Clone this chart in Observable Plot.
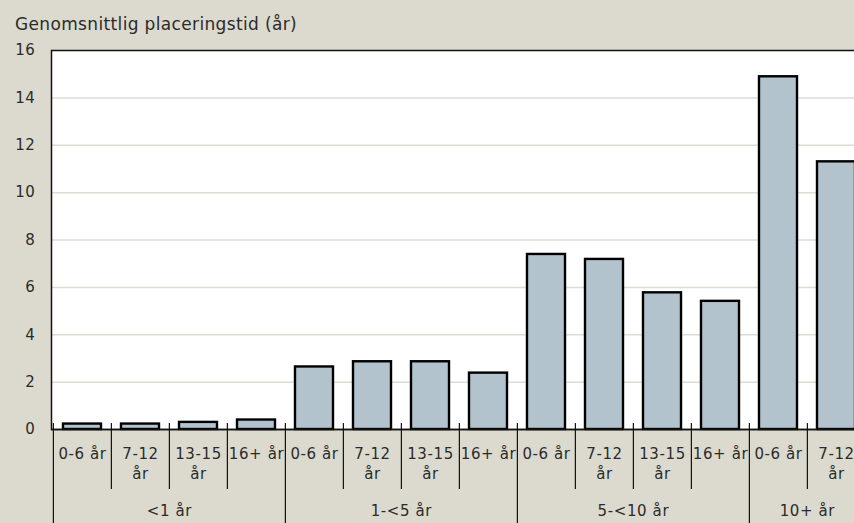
<!DOCTYPE html>
<html><head><meta charset="utf-8">
<script src="https://cdn.jsdelivr.net/npm/d3@7"></script>
<script src="https://cdn.jsdelivr.net/npm/@observablehq/plot@0.6"></script>
<style>
html,body{margin:0;padding:0;background:#dcdacf;overflow:hidden;width:854px;height:523px}
#wrap{position:relative;width:854px;height:523px;overflow:hidden}
#title{position:absolute;left:15px;top:14px;font-family:"DejaVu Sans";font-size:17px;letter-spacing:0.35px;color:#2b2b2b;white-space:nowrap}
#wrap svg{max-width:none !important}
#wrap svg text{letter-spacing:0.6px}
</style></head><body>
<div id="wrap"><div id="title">Genomsnittlig placeringstid (år)</div></div>
<script>
// Data
const groups = ["<1 år", "1-<5 år", "5-<10 år", "10+ år"];
const groupOf = ["<1 år","<1 år","<1 år","<1 år","1-<5 år","1-<5 år","1-<5 år","1-<5 år","5-<10 år","5-<10 år","5-<10 år","5-<10 år","10+ år","10+ år"];
const ageOf = ["0-6 år","7-12 år","13-15 år","16+ år","0-6 år","7-12 år","13-15 år","16+ år","0-6 år","7-12 år","13-15 år","16+ år","0-6 år","7-12 år"];
const values = [0.23, 0.23, 0.30, 0.40, 2.64, 2.86, 2.86, 2.38, 7.39, 7.18, 5.77, 5.41, 14.89, 11.30];
const ageTickLabels = {"0-6 år": "0-6 år", "7-12 år": "7-12\når", "13-15 år": "13-15\når", "16+ år": "16+ år"};
const yTicks = [0, 2, 4, 6, 8, 10, 12, 14, 16];

const W = 880, H = 523, ML = 51, MR = 13.5, MT = 50, MB = 94;
const plotH = H - MT - MB;
const data = groupOf.map((g, i) => ({key: g + "|" + ageOf[i], group: g, age: ageOf[i], value: values[i]}));
const bw = (W - ML - MR) / data.length;
const innerDividers = data.filter((d, i) => i > 0 && groupOf[i - 1] === groupOf[i]);
const groupStarts = data.filter((d, i) => i === 0 || groupOf[i - 1] !== groupOf[i]);
const lastKey = data[data.length - 1];
const groupLabels = groups.map(g => { const m = data.filter(d => d.group === g); return m[m.length / 2]; });

const chart = Plot.plot({
  width: W, height: H,
  marginLeft: ML, marginRight: MR, marginTop: MT, marginBottom: MB,
  style: {background: "transparent", fontFamily: "DejaVu Sans", fontSize: "15px", color: "#2b2b2b", maxWidth: "none", overflow: "visible"},
  x: {type: "band", domain: data.map(d => d.key), padding: 0, axis: null},
  y: {domain: [0, 16], axis: null},
  marks: [
    Plot.frame({fill: "white", stroke: "none"}),
    Plot.gridY(yTicks.filter(t => t > 0 && t < 16), {stroke: "#dedbd0", strokeOpacity: 1, strokeWidth: 1.5}),
    Plot.barY(data, {x: "key", y: "value", fill: "#b3c3cd", stroke: "#000", strokeWidth: 2.4, insetLeft: 10, insetRight: 10}),
    Plot.frame({stroke: "#111", strokeWidth: 1.5}),
    Plot.ruleY([0], {stroke: "#111", strokeWidth: 1.5}),
    Plot.axisY({ticks: yTicks, tickSize: 0, tickPadding: 16, label: null, fontSize: 15, fill: "#2b2b2b"}),
    Plot.ruleX(innerDividers, {x: "key", dx: -bw / 2, insetTop: plotH - 6, insetBottom: -60, stroke: "#111", strokeWidth: 1.2}),
    Plot.ruleX(groupStarts, {x: "key", dx: -bw / 2, insetTop: plotH - 6, insetBottom: -MB, stroke: "#111", strokeWidth: 1.2}),
    Plot.ruleX([lastKey], {x: "key", dx: bw / 2, insetTop: plotH - 6, insetBottom: -MB, stroke: "#111", strokeWidth: 1.2}),
    Plot.text(data, {x: "key", text: d => ageTickLabels[d.age], frameAnchor: "bottom", lineAnchor: "top", dy: 15, lineHeight: 1.33, fontSize: 15, fill: "#2b2b2b"}),
    Plot.text(groupLabels, {x: "key", text: "group", dx: -bw / 2, frameAnchor: "bottom", lineAnchor: "top", dy: 76, fontSize: 15, fill: "#2b2b2b"})
  ]
});
document.getElementById("wrap").prepend(chart);
</script>
</body></html>
